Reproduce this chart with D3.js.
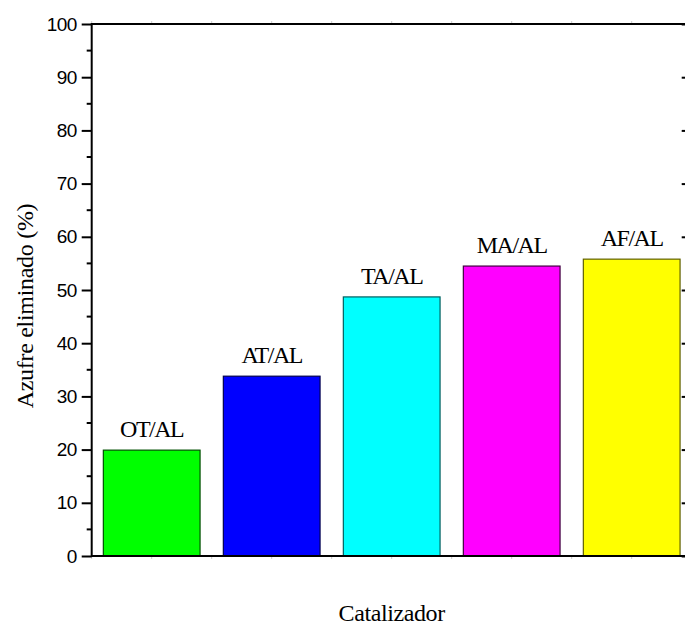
<!DOCTYPE html>
<html>
<head>
<meta charset="utf-8">
<script src="https://cdn.jsdelivr.net/npm/d3@7"></script>
<style>
  html, body { margin: 0; padding: 0; background: #fff; }
  svg { display: block; }
</style>
</head>
<body>
<svg id="chart" width="685" height="626"></svg>
<script>
const categories = ["OT/AL", "AT/AL", "TA/AL", "MA/AL", "AF/AL"];
const values = [19.9, 33.8, 48.7, 54.5, 55.8];
const yTicks = [0, 10, 20, 30, 40, 50, 60, 70, 80, 90, 100];
const yMinorTicks = [5, 15, 25, 35, 45, 55, 65, 75, 85, 95];
const xLabel = "Catalizador";
const yLabel = "Azufre eliminado (%)";

const fills = ["#00ff00", "#0000ff", "#00ffff", "#ff00ff", "#ffff00"];
const strokes = ["#005000", "#000050", "#006060", "#400040", "#606000"];

const svg = d3.select("#chart");
const L = 91.7, R = 691.7, T = 24, B = 556;

const x = d3.scaleBand().domain(categories).range([L, R])
  .paddingInner(0.194).paddingOuter(0.097);
const y = d3.scaleLinear().domain([0, 100]).range([B, T]);

const sans = "'Liberation Sans', Arial, sans-serif";
const serif = "'Liberation Serif', 'Times New Roman', serif";

// bars
svg.append("g").selectAll("rect").data(values).join("rect")
  .attr("x", (d, i) => x(categories[i]))
  .attr("y", d => y(d))
  .attr("width", x.bandwidth())
  .attr("height", d => y(0) - y(d))
  .attr("fill", (d, i) => fills[i])
  .attr("stroke", (d, i) => strokes[i])
  .attr("stroke-width", 1.2);

// bar labels
svg.append("g").selectAll("text").data(values).join("text")
  .attr("x", (d, i) => x(categories[i]) + x.bandwidth() / 2)
  .attr("y", d => y(d) - 13)
  .attr("text-anchor", "middle")
  .attr("font-family", serif)
  .attr("font-size", 24)
  .attr("letter-spacing", -1.5)
  .attr("fill", "#000")
  .text((d, i) => categories[i]);

// faint category ticks on bottom/top axes
const faint = [];
categories.forEach(c => { faint.push(x(c) + x.bandwidth() / 2); });
categories.forEach(c => { faint.push(x(c) - x.step() * x.paddingInner() / 2); });
svg.append("g").selectAll("line").data(faint).join("line")
  .attr("x1", d => d).attr("x2", d => d)
  .attr("y1", B + 1).attr("y2", B + 3)
  .attr("stroke", "#ccc").attr("stroke-width", 1);
svg.append("g").selectAll("line").data(faint).join("line")
  .attr("x1", d => d).attr("x2", d => d)
  .attr("y1", T - 3).attr("y2", T - 1)
  .attr("stroke", "#ccc").attr("stroke-width", 1);

// left axis
const leftAxis = d3.axisLeft(y).tickValues(yTicks).tickSize(10).tickPadding(5).tickSizeOuter(0);
const gl = svg.append("g").attr("transform", `translate(${L},0)`).call(leftAxis);
gl.select(".domain").attr("stroke", "#000").attr("stroke-width", 2).attr("d", `M0,${B + 1}V${T - 1}`);
gl.selectAll(".tick line").attr("stroke", "#000").attr("stroke-width", 2);
gl.selectAll(".tick text").attr("font-family", sans).attr("font-size", 19).attr("letter-spacing", -0.6).attr("fill", "#000");
svg.append("g").selectAll("line").data(yMinorTicks).join("line")
  .attr("x1", L - 5).attr("x2", L).attr("y1", d => y(d)).attr("y2", d => y(d))
  .attr("stroke", "#000").attr("stroke-width", 2);

// right axis (mostly outside the frame)
const rightAxis = d3.axisRight(y).tickValues(yTicks).tickSize(-10).tickFormat("").tickSizeOuter(0);
const gr = svg.append("g").attr("transform", `translate(${R},0)`).call(rightAxis);
gr.select(".domain").attr("stroke", "#000").attr("stroke-width", 2);
gr.selectAll(".tick line").attr("stroke", "#000").attr("stroke-width", 2);

// top and bottom axis lines
svg.append("line").attr("x1", L).attr("x2", R).attr("y1", T).attr("y2", T)
  .attr("stroke", "#000").attr("stroke-width", 2);
svg.append("line").attr("x1", L).attr("x2", R).attr("y1", B).attr("y2", B)
  .attr("stroke", "#000").attr("stroke-width", 2);

// axis titles
svg.append("text")
  .attr("x", (L + R) / 2).attr("y", 621)
  .attr("text-anchor", "middle")
  .attr("font-family", serif).attr("font-size", 24).attr("letter-spacing", -0.4)
  .attr("fill", "#000")
  .text(xLabel);
svg.append("text")
  .attr("transform", `translate(33,306) rotate(-90)`)
  .attr("text-anchor", "middle")
  .attr("font-family", serif).attr("font-size", 24).attr("letter-spacing", -0.3)
  .attr("fill", "#000")
  .text(yLabel);
</script>
</body>
</html>
